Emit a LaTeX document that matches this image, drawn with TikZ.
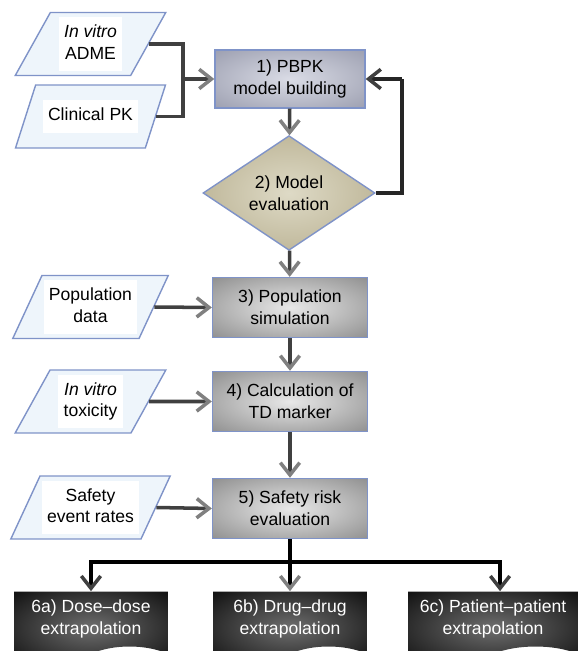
\documentclass[tikz,border=0pt]{standalone}
\usepackage{fontspec}
\setmainfont{Liberation Sans}
\usetikzlibrary{shapes.geometric,shapes.symbols,arrows.meta}

\definecolor{paperblue}{HTML}{EEF5FB}
\definecolor{edgeblue}{HTML}{7F93C8}
\definecolor{greyin}{HTML}{E8E8E8}
\definecolor{greyout}{HTML}{6C6C6C}
\definecolor{bluein}{HTML}{DADCE6}
\definecolor{blueout}{HTML}{84879B}
\definecolor{olivein}{HTML}{DEDAC6}
\definecolor{oliveout}{HTML}{A39872}
\definecolor{darkin}{HTML}{6E6E6E}
\definecolor{darkout}{HTML}{050505}

\pgfdeclareradialshading{greyglow}{\pgfpoint{0bp}{0bp}}{color(0bp)=(greyin); color(50bp)=(greyout)}
\pgfdeclareradialshading{blueglow}{\pgfpoint{0bp}{0bp}}{color(0bp)=(bluein); color(50bp)=(blueout)}
\pgfdeclareradialshading{oliveglow}{\pgfpoint{0bp}{0bp}}{color(0bp)=(olivein); color(50bp)=(oliveout)}
\pgfdeclareradialshading{darkglow}{\pgfpoint{0bp}{0bp}}{color(0bp)=(darkin); color(40bp)=(darkout); color(50bp)=(darkout)}

\newcommand{\whitebg}[1]{\colorbox{white}{\begin{tabular}{@{}c@{}}#1\end{tabular}}}

\begin{document}
\begin{tikzpicture}[x=0.02cm, y=-0.02cm, font=\fontsize{10}{12.3}\selectfont,
	input/.style={trapezium, trapezium stretches=true, trapezium left angle=63, trapezium right angle=117,
		minimum width=3.02cm, minimum height=1.26cm, inner sep=1pt, draw=edgeblue, fill=paperblue, line width=0.8pt},
	stage/.style={rectangle, draw=edgeblue, line width=0.8pt, shading=greyglow, minimum width=3.1cm, minimum height=1.2cm, align=center},
	result/.style={tape, tape bend top=none, tape bend bottom=in and out, tape bend height=0.3cm, shading=darkglow,
		minimum width=3.08cm, minimum height=1.4cm, align=center, text=white},
	link/.style={line width=2pt, draw=black!75},
	flow/.style={link, -{Straight Barb[length=7pt,width=11pt,color=gray]}},
	flowdark/.style={link, -{Straight Barb[length=7pt,width=11pt,color=black!75]}},
	elbow/.style={to path={-| (\tikztotarget)}}]
	\useasboundingbox (0,0) rectangle (581,651);
	\clip (0,0) rectangle (581,651);

	\node	(adme) at (90.5,44) [input] {\whitebg{\textit{In vitro}\\ADME}};
	\node	(clin) at (90.5,116.5) [input] {\whitebg{Clinical PK}};
	\node	(pops) at (90.5,307) [input] {\whitebg{Population\\data}};
	\node	(tox) at (90.5,401.5) [input] {\whitebg{\textit{In vitro}\\toxicity}};
	\node	(rate) at (90.5,507.5) [input] {\whitebg{Safety\\event rates}};

	\node	(pbpk) at (290,79) [stage, shading=blueglow, minimum width=3.0cm, minimum height=1.16cm] {1) PBPK\\model building};
	\node	(eval) at (289,193) [diamond, draw=edgeblue, line width=0.8pt, shading=oliveglow, inner sep=0pt,
		minimum width=3.44cm, minimum height=2.0cm, align=center] {2) Model\\evaluation};
	\node	(popsim) at (290,307.5) [stage] {3) Population\\simulation};
	\node	(tdm) at (290,401.5) [stage] {4) Calculation of\\TD marker};
	\node	(risk) at (290,508.5) [stage] {5) Safety risk\\evaluation};

	\node	(dd) at (91,619) [result] {6a) Dose–dose\\extrapolation};
	\node	(drd) at (290,619) [result] {6b) Drug–drug\\extrapolation};
	\node	(pp) at (493,619) [result, minimum width=3.4cm] {6c) Patient–patient\\extrapolation};

	\coordinate (join) at (183,79);
	\coordinate (back) at (402,79);
	\coordinate (fork) at (290,562);

	\draw
	(adme.east) edge[link, elbow] (join)
	(clin.east) edge[link, elbow] (join)
	(join) edge[flow] (pbpk.west)
	(pbpk) edge[flow] (eval)
	(eval.east) edge[link, draw=black!85, elbow] (back)
	(back) edge[flowdark, draw=black!85] (pbpk.east)
	(eval) edge[flow] (popsim)
	(pops.east) edge[flow] (popsim.west)
	(popsim) edge[flow] (tdm)
	(tox.east) edge[flow] (tdm.west)
	(tdm) edge[flow] (risk)
	(rate.east) edge[flow] (risk.west)
	(risk) edge[link, draw=black] (fork)
	(fork) edge[flowdark, draw=black, elbow] (dd.north)
	(fork) edge[flow, draw=black] (drd.north)
	(fork) edge[flowdark, draw=black, elbow] ([xshift=4pt]pp.north)
	;
\end{tikzpicture}
\end{document}
